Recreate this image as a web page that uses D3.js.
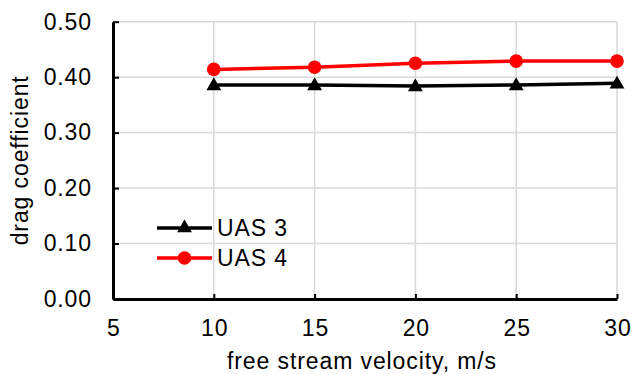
<!DOCTYPE html>
<html>
<head>
<meta charset="utf-8">
<script src="https://cdn.jsdelivr.net/npm/d3@7/dist/d3.min.js"></script>
<style>
  html, body { margin: 0; padding: 0; background: #fff; }
  svg text { font-family: "Liberation Sans", Arial, sans-serif; fill: #000; }
</style>
</head>
<body>
<svg id="chart" width="634" height="374"></svg>
<script>
// Drag coefficient vs free stream velocity for two aircraft
const velocities = [10, 15, 20, 25, 30];
const uas3 = [0.386, 0.386, 0.384, 0.386, 0.389];
const uas4 = [0.414, 0.418, 0.425, 0.429, 0.429];
const xTicks = [5, 10, 15, 20, 25, 30];
const yTicks = [0.0, 0.1, 0.2, 0.3, 0.4, 0.5];
const seriesNames = ["UAS 3", "UAS 4"];

const svg = d3.select("#chart");
const margin = { left: 113, right: 17, top: 21.7, bottom: 75 };
const W = 634, H = 374;

const x = d3.scaleLinear().domain([5, 30]).range([margin.left, W - margin.right]);
const y = d3.scaleLinear().domain([0, 0.5]).range([H - margin.bottom, margin.top]);

const gridColor = "#d9d9d9";
const fontSize = 23;
const spacing = 0.9;

// grid
const grid = svg.append("g");
grid.selectAll("line.v").data(xTicks.filter(d => d > 5)).join("line")
  .attr("x1", d => x(d)).attr("x2", d => x(d))
  .attr("y1", y(0)).attr("y2", y(0.5))
  .attr("stroke", gridColor).attr("stroke-width", 1.5);
grid.selectAll("line.h").data(yTicks.filter(d => d > 0)).join("line")
  .attr("x1", x(5)).attr("x2", x(30))
  .attr("y1", d => y(d)).attr("y2", d => y(d))
  .attr("stroke", gridColor).attr("stroke-width", 1.5);

// axes
const xAxis = d3.axisBottom(x).tickValues(xTicks).tickFormat(d3.format("d"))
  .tickSizeInner(-5).tickSizeOuter(0).tickPadding(21);
const yAxis = d3.axisLeft(y).tickValues(yTicks).tickFormat(d3.format(".2f"))
  .tickSizeInner(-6).tickSizeOuter(0).tickPadding(21);

const gx = svg.append("g").attr("transform", `translate(0,${y(0)})`).call(xAxis);
const gy = svg.append("g").attr("transform", `translate(${x(5)},0)`).call(yAxis);

[gx, gy].forEach(g => {
  g.select(".domain").attr("stroke", "#000").attr("stroke-width", 3);
  g.selectAll(".tick line").attr("stroke", "#000").attr("stroke-width", 2);
  g.selectAll(".tick text").attr("font-size", fontSize)
    .style("letter-spacing", spacing + "px")
    .attr("font-family", "Liberation Sans, Arial, sans-serif");
});
gx.selectAll(".tick text").attr("dx", spacing / 2);

// axis titles
svg.append("text")
  .attr("x", (x(5) + x(30)) / 2 - 3).attr("y", 369)
  .attr("text-anchor", "middle").attr("font-size", fontSize)
  .style("letter-spacing", spacing + "px")
  .text("free stream velocity, m/s");

svg.append("text")
  .attr("transform", `translate(28,${(y(0) + y(0.5)) / 2}) rotate(-90)`)
  .attr("text-anchor", "middle").attr("font-size", fontSize)
  .style("letter-spacing", spacing + "px")
  .text("drag coefficient");

// series
const line = d3.line().x(d => x(d[0])).y(d => y(d[1]));
const s3 = velocities.map((v, i) => [v, uas3[i]]);
const s4 = velocities.map((v, i) => [v, uas4[i]]);

const tri = d3.symbol().type(d3.symbolTriangle).size(95);

svg.append("path").datum(s3).attr("d", line)
  .attr("fill", "none").attr("stroke", "#000").attr("stroke-width", 3.5);
svg.selectAll("path.m3").data(s3).join("path").attr("class", "m3")
  .attr("d", tri)
  .attr("transform", d => `translate(${x(d[0])},${y(d[1]) + 1})`)
  .attr("fill", "#000");

svg.append("path").datum(s4).attr("d", line)
  .attr("fill", "none").attr("stroke", "#ff0000").attr("stroke-width", 3.5);
svg.selectAll("circle.m4").data(s4).join("circle").attr("class", "m4")
  .attr("cx", d => x(d[0])).attr("cy", d => y(d[1]))
  .attr("r", 6.8).attr("fill", "#ff0000");

// legend
const legend = svg.append("g");
const legendRows = [
  { name: seriesNames[0], color: "#000", shape: "tri", yPos: 228 },
  { name: seriesNames[1], color: "#ff0000", shape: "circ", yPos: 258 }
];
legendRows.forEach(r => {
  legend.append("line").attr("x1", 157).attr("x2", 212)
    .attr("y1", r.yPos).attr("y2", r.yPos)
    .attr("stroke", r.color).attr("stroke-width", 3.5);
  if (r.shape === "tri") {
    legend.append("path").attr("d", tri)
      .attr("transform", `translate(184.5,${r.yPos})`).attr("fill", r.color);
  } else {
    legend.append("circle").attr("cx", 184.5).attr("cy", r.yPos)
      .attr("r", 6.8).attr("fill", r.color);
  }
  legend.append("text").attr("x", 217).attr("y", r.yPos + 8)
    .attr("font-size", fontSize).style("letter-spacing", spacing + "px")
    .text(r.name);
});
</script>
</body>
</html>
